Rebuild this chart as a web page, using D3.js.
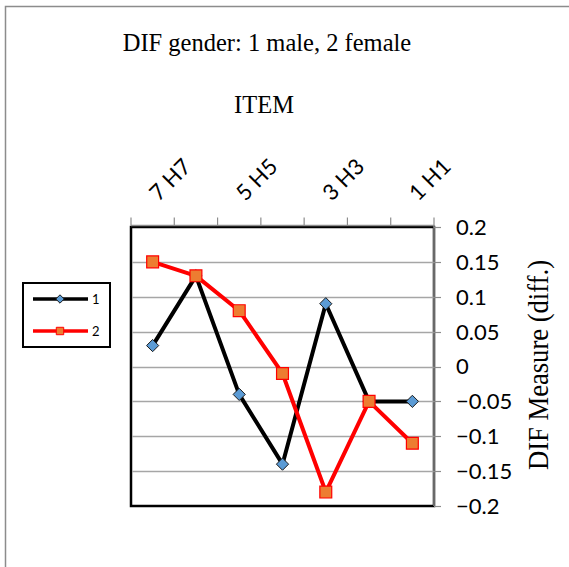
<!DOCTYPE html>
<html>
<head>
<meta charset="utf-8">
<script src="https://cdn.jsdelivr.net/npm/d3@7"></script>
<style>
  body { margin: 0; background: #fff; }
  svg { display: block; }
</style>
</head>
<body>
<div id="chart"></div>
<script>
var categories = ["7 H7", "6 H6", "5 H5", "4 H4", "3 H3", "2 H2", "1 H1"];
var male = [0.03, 0.13, -0.04, -0.14, 0.09, -0.05, -0.05];
var female = [0.15, 0.13, 0.08, -0.01, -0.18, -0.05, -0.11];
var yTicks = [0.2, 0.15, 0.1, 0.05, 0, -0.05, -0.1, -0.15, -0.2];
var seriesNames = ["1", "2"];

var W = 569, H = 567;
var plot = { left: 131, right: 434, top: 227, bottom: 506 };

var svg = d3.select("#chart").append("svg")
    .attr("width", W)
    .attr("height", H);

// chart area border (only top/left visible)
svg.append("path")
    .attr("d", "M5.5," + H + "V6.5H" + W)
    .attr("fill", "none")
    .attr("stroke", "#8c8c8c")
    .attr("stroke-width", 1.5);

var x = d3.scaleBand()
    .domain(categories)
    .range([plot.left, plot.right]);

var y = d3.scaleLinear()
    .domain([-0.2, 0.2])
    .range([plot.bottom, plot.top]);

// plot area
svg.append("rect")
    .attr("x", plot.left)
    .attr("y", plot.top)
    .attr("width", plot.right - plot.left)
    .attr("height", plot.bottom - plot.top)
    .attr("fill", "#fff")
    .attr("stroke", "#000")
    .attr("stroke-width", 2.5);

// gridlines
svg.append("g")
    .selectAll("line")
    .data(yTicks.filter(function(d) { return d < 0.2 && d > -0.2; }))
    .enter().append("line")
    .attr("x1", plot.left + 1)
    .attr("x2", plot.right)
    .attr("y1", function(d) { return Math.round(y(d)) + 0.5; })
    .attr("y2", function(d) { return Math.round(y(d)) + 0.5; })
    .attr("stroke", "#a6a6a6")
    .attr("stroke-width", 1.5);

// top x axis
var xAxis = svg.append("g")
    .attr("transform", "translate(0," + (plot.top - 1.5) + ")");
xAxis.append("line")
    .attr("x1", plot.left).attr("x2", plot.right)
    .attr("stroke", "#8c8c8c").attr("stroke-width", 1.5);
var bounds = categories.map(function(c) { return x(c); }).concat([plot.right]);
xAxis.selectAll(".tick")
    .data(bounds)
    .enter().append("line")
    .attr("x1", function(d) { return d; })
    .attr("x2", function(d) { return d; })
    .attr("y1", 0).attr("y2", -8)
    .attr("stroke", "#8c8c8c").attr("stroke-width", 1.2);

svg.append("g")
    .selectAll("text")
    .data(categories.filter(function(d, i) { return i % 2 == 0; }))
    .enter().append("text")
    .attr("transform", function(d) {
        return "translate(" + (x(d) + x.bandwidth() / 2 + 6) + "," + 202 + ") rotate(-45)";
    })
    .attr("font-family", "Lato, 'Open Sans', sans-serif")
    .attr("font-size", 22)
    .attr("fill", "#000")
    .text(function(d) { return d; });

// right y axis
var yAxis = svg.append("g")
    .attr("transform", "translate(" + plot.right + ",0)");
yAxis.append("line")
    .attr("y1", plot.top - 2).attr("y2", plot.bottom)
    .attr("stroke", "#8c8c8c").attr("stroke-width", 1.5);
yAxis.selectAll(".tick")
    .data(yTicks)
    .enter().append("line")
    .attr("x1", 0).attr("x2", 7)
    .attr("y1", function(d) { return Math.round(y(d)) + 0.5; })
    .attr("y2", function(d) { return Math.round(y(d)) + 0.5; })
    .attr("stroke", "#8c8c8c").attr("stroke-width", 1.2);
yAxis.selectAll("text")
    .data(yTicks)
    .enter().append("text")
    .attr("x", 22)
    .attr("y", function(d) { return y(d); })
    .attr("dy", "0.36em")
    .attr("font-family", "Lato, 'Open Sans', sans-serif")
    .attr("font-size", 22)
    .attr("fill", "#000")
    .text(function(d) { return d3.format("")(d); });

// titles
svg.append("text")
    .attr("x", 267).attr("y", 51)
    .attr("text-anchor", "middle")
    .attr("font-family", "'Liberation Serif', 'Times New Roman', serif")
    .attr("font-size", 24.5)
    .text("DIF gender: 1 male, 2 female");
svg.append("text")
    .attr("x", 264).attr("y", 113)
    .attr("text-anchor", "middle")
    .attr("font-family", "'Liberation Serif', 'Times New Roman', serif")
    .attr("font-size", 24.5)
    .text("ITEM");
svg.append("text")
    .attr("transform", "translate(548,365) rotate(-90)")
    .attr("text-anchor", "middle")
    .attr("font-family", "'Liberation Serif', 'Times New Roman', serif")
    .attr("font-size", 30)
    .attr("textLength", 210)
    .attr("lengthAdjust", "spacingAndGlyphs")
    .text("DIF Measure (diff.)");

// series
var line = d3.line()
    .x(function(d, i) { return x(categories[i]) + x.bandwidth() / 2; })
    .y(function(d) { return y(d); });

svg.append("path")
    .datum(male)
    .attr("d", line)
    .attr("fill", "none")
    .attr("stroke", "#000")
    .attr("stroke-width", 4)
    .attr("stroke-linejoin", "round");

svg.append("path")
    .datum(female)
    .attr("d", line)
    .attr("fill", "none")
    .attr("stroke", "#ff0000")
    .attr("stroke-width", 4)
    .attr("stroke-linejoin", "round");

var diamond = d3.symbol().type(d3.symbolDiamond2).size(95);
var square = d3.symbol().type(d3.symbolSquare2).size(180);

svg.append("g")
    .selectAll("path")
    .data(male)
    .enter().append("path")
    .attr("transform", function(d, i) {
        return "translate(" + (x(categories[i]) + x.bandwidth() / 2) + "," + y(d) + ")";
    })
    .attr("d", diamond)
    .attr("fill", "#5b9bd5")
    .attr("stroke", "#1a1a1a")
    .attr("stroke-width", 1);

svg.append("g")
    .selectAll("path")
    .data(female)
    .enter().append("path")
    .attr("transform", function(d, i) {
        return "translate(" + (x(categories[i]) + x.bandwidth() / 2) + "," + y(d) + ")";
    })
    .attr("d", square)
    .attr("fill", "#ed7d31")
    .attr("stroke", "#ff0000")
    .attr("stroke-width", 1.2);

// legend
var legend = svg.append("g");
legend.append("rect")
    .attr("x", 23).attr("y", 283)
    .attr("width", 87).attr("height", 64)
    .attr("fill", "#fff")
    .attr("stroke", "#000")
    .attr("stroke-width", 2);

var legendItems = legend.selectAll(".item")
    .data(seriesNames)
    .enter().append("g")
    .attr("class", "item")
    .attr("transform", function(d, i) { return "translate(0," + (299 + i * 32) + ")"; });

legendItems.append("line")
    .attr("x1", 33).attr("x2", 88)
    .attr("stroke", function(d, i) { return i == 0 ? "#000" : "#ff0000"; })
    .attr("stroke-width", 3.5);

legendItems.append("path")
    .attr("transform", "translate(60,0)")
    .attr("d", function(d, i) {
        return i == 0 ? d3.symbol().type(d3.symbolDiamond2).size(45)() : d3.symbol().type(d3.symbolSquare2).size(70)();
    })
    .attr("fill", function(d, i) { return i == 0 ? "#5b9bd5" : "#ed7d31"; })
    .attr("stroke", function(d, i) { return i == 0 ? "#1a1a1a" : "#ff0000"; })
    .attr("stroke-width", 1);

legendItems.append("text")
    .attr("x", 92)
    .attr("dy", "0.36em")
    .attr("font-family", "Lato, 'Open Sans', sans-serif")
    .attr("font-size", 13)
    .text(function(d) { return d; });
</script>
</body>
</html>
